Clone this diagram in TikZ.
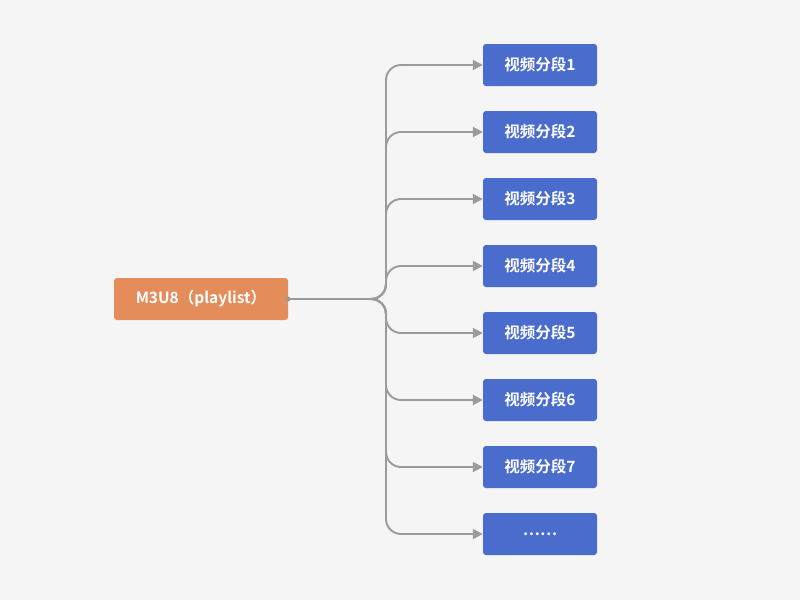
\documentclass[tikz,border=0pt]{standalone}
\usepackage{fontspec}
\setmainfont{Noto Sans CJK SC}[BoldFont={* Bold}]
\newfontfamily\cjk{Noto Sans CJK SC Bold}
\usetikzlibrary{arrows.meta}
\definecolor{bgc}{RGB}{245,245,245}
\definecolor{orangebox}{RGB}{228,141,91}
\definecolor{bluebox}{RGB}{74,108,204}
\definecolor{linec}{RGB}{155,155,155}
\begin{document}
\begin{tikzpicture}[x=1pt,y=-1pt,
  seg/.style={fill=bluebox, rounded corners=3pt, minimum width=114pt, minimum height=42pt, inner sep=0pt, text=white, font=\cjk\fontsize{15.5}{18}\selectfont},
  root/.style={fill=orangebox, rounded corners=3pt, minimum width=174pt, minimum height=42pt, inner sep=0pt, text=white, font=\cjk\fontsize{15.5}{18}\selectfont},
  conn/.style={draw=linec, line width=1.9pt, rounded corners=15pt, -{Triangle[length=10pt,width=10pt]}}]
\fill[bgc] (0,0) rectangle (800,600);
\useasboundingbox (0,0) rectangle (800,600);
\node[root] (m) at (201,299) {M3U8（playlist）};
\node[seg] (s1) at (540,65) {视频分段1};
\node[seg] (s2) at (540,132) {视频分段2};
\node[seg] (s3) at (540,199) {视频分段3};
\node[seg] (s4) at (540,266) {视频分段4};
\node[seg] (s5) at (540,333) {视频分段5};
\node[seg] (s6) at (540,400) {视频分段6};
\node[seg] (s7) at (540,467) {视频分段7};
\node[seg] (s8) at (540,534) {……};
\foreach \s in {s1,s2,s3,s4,s5,s6,s7,s8}{
  \draw[conn] (m.east) -- (386,299) -- (386,0 |- \s.west) -- (\s.west);
}
\fill[linec] (m.east) circle (2.5pt);
\end{tikzpicture}
\end{document}
